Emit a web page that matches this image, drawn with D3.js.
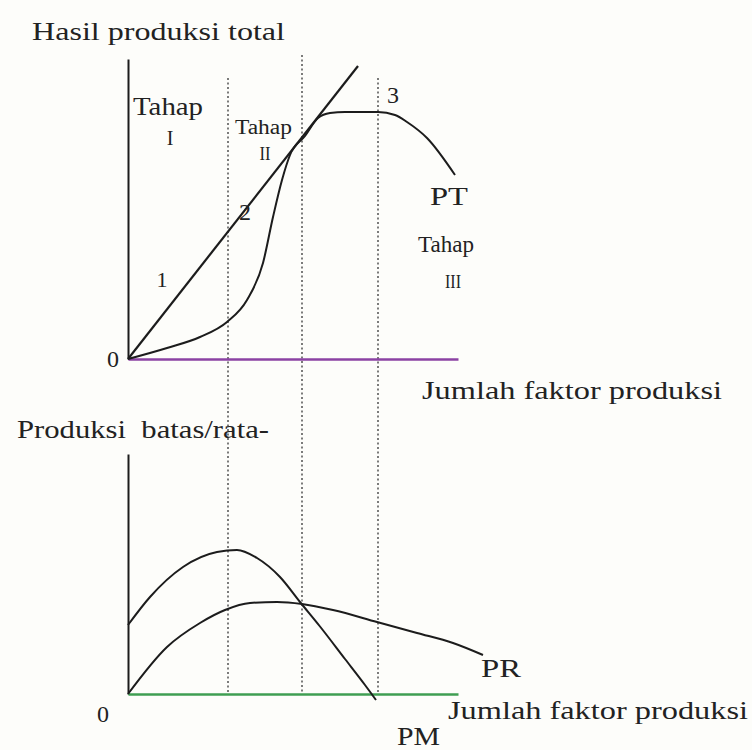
<!DOCTYPE html>
<html>
<head>
<meta charset="utf-8">
<script src="https://cdn.jsdelivr.net/npm/d3@7"></script>
<style>
  body { margin: 0; background: #fdfdfa; }
  svg text { fill: #222; white-space: pre; }
</style>
</head>
<body>
<div id="chart"></div>
<script>
// Stage boundaries (units of factor input)
const stageBounds = [4, 6.96, 10];
const stageTops = [11.24, 12.16, 11.24];

// Ray from the origin (tangent line)
const rayX = [0, 9.2];
const rayY = [0, 11.72];

// Total product (PT)
const ptX = [0, 1.56, 2.88, 3.96, 4.76, 5.4, 5.8, 6.16, 6.48, 7.08, 7.6, 8.08, 8.68, 10, 10.68, 11.16, 11.96, 13.08];
const ptY = [0, 0.44, 0.88, 1.48, 2.36, 3.84, 5.68, 7.16, 8.16, 8.92, 9.64, 9.84, 9.88, 9.88, 9.76, 9.48, 8.84, 7.36];

// Marginal product (PM)
const pmX = [0, 0.88, 2.2, 3.56, 4.36, 5.16, 6.08, 6.88, 7.68, 8.68, 9.48, 9.92];
const pmY = [2.76, 3.88, 5.08, 5.68, 5.76, 5.44, 4.68, 3.68, 2.7, 1.4, 0.36, -0.24];

// Average product (PR)
const prX = [0, 1.56, 2.88, 3.88, 4.88, 5.96, 6.96, 8.2, 9.96, 11.56, 13, 14.2];
const prY = [0, 1.88, 2.84, 3.36, 3.64, 3.68, 3.6, 3.36, 2.88, 2.44, 2.04, 1.56];

const width = 752;
const height = 750;
const serif = '"Liberation Serif", "Times New Roman", Times, serif';

const svg = d3.select('#chart')
  .append('svg')
  .attr('width', width)
  .attr('height', height);

// Scales
const x = d3.scaleLinear().domain([0, 13.2]).range([128, 458]);
const yTop = d3.scaleLinear().domain([0, 12]).range([359, 59]);
const yBot = d3.scaleLinear().domain([0, 9.6]).range([694, 454]);

const ink = '#1c1c1c';
const zip = (xs, ys) => xs.map((v, i) => [v, ys[i]]);

// Dotted stage boundaries running through both panels
svg.append('g')
  .selectAll('line')
  .data(stageBounds)
  .enter()
  .append('line')
  .attr('x1', d => x(d))
  .attr('x2', d => x(d))
  .attr('y1', (d, i) => yTop(stageTops[i]))
  .attr('y2', yBot(0))
  .attr('stroke', '#444')
  .attr('stroke-width', 1.4)
  .attr('stroke-dasharray', '2,2.5');

// Axes (no ticks, just the spines)
function spine(g, axis, color, w) {
  g.call(axis.ticks(0).tickSizeOuter(0));
  g.select('.domain').attr('stroke', color).attr('stroke-width', w);
}
svg.append('g').attr('transform', `translate(${x(0)},0)`)
  .call(g => spine(g, d3.axisLeft(yTop), ink, 2));
svg.append('g').attr('transform', `translate(0,${yTop(0)})`)
  .call(g => spine(g, d3.axisBottom(x), '#8b42a3', 2.5));
svg.append('g').attr('transform', `translate(${x(0)},0)`)
  .call(g => spine(g, d3.axisLeft(yBot), ink, 2));
svg.append('g').attr('transform', `translate(0,${yBot(0)})`)
  .call(g => spine(g, d3.axisBottom(x), '#3f9e52', 2.5));

// Curves
const lineTop = d3.line().x(d => x(d[0])).y(d => yTop(d[1]));
const lineBot = d3.line().x(d => x(d[0])).y(d => yBot(d[1])).curve(d3.curveMonotoneX);

svg.append('path')
  .attr('d', lineTop(zip(rayX, rayY)))
  .attr('fill', 'none').attr('stroke', ink).attr('stroke-width', 2.2);

svg.append('path')
  .attr('d', lineTop.curve(d3.curveMonotoneX)(zip(ptX, ptY)))
  .attr('fill', 'none').attr('stroke', ink).attr('stroke-width', 2);

svg.append('path')
  .attr('d', lineBot(zip(pmX, pmY)))
  .attr('fill', 'none').attr('stroke', ink).attr('stroke-width', 2);

svg.append('path')
  .attr('d', lineBot(zip(prX, prY)))
  .attr('fill', 'none').attr('stroke', ink).attr('stroke-width', 2);

// Text labels
function label(txt, px, py, size, len, anchor) {
  const t = svg.append('text')
    .attr('x', px)
    .attr('y', py)
    .attr('font-family', serif)
    .attr('font-size', size)
    .attr('text-anchor', anchor || 'start')
    .text(txt);
  if (len) t.attr('textLength', len).attr('lengthAdjust', 'spacingAndGlyphs');
  return t;
}

label('Hasil produksi total', 32, 40, 26, 253);
label('Tahap', 133, 115, 25, 70);
label('I', 170, 145, 20, null, 'middle');
label('Tahap', 235, 134, 20, 57);
label('II', 265, 160, 19, 11, 'middle');
label('1', 162, 287, 22, null, 'middle');
label('2', 245, 220, 24, null, 'middle');
label('3', 393, 103, 24, null, 'middle');
label('PT', 430, 205, 25, 38);
label('Tahap', 418, 252, 24, 56);
label('III', 453, 288, 19, 16, 'middle');
label('0', 113, 367, 24, null, 'middle');
label('Jumlah faktor produksi', 422, 399, 25, 300);
label('Produksi  batas/rata-', 17, 438, 25, 252);
label('PR', 481, 677, 25, 40);
label('0', 103, 722, 24, null, 'middle');
label('Jumlah faktor produksi', 448, 719, 25, 300);
label('PM', 397, 745, 25, 43);
</script>
</body>
</html>
